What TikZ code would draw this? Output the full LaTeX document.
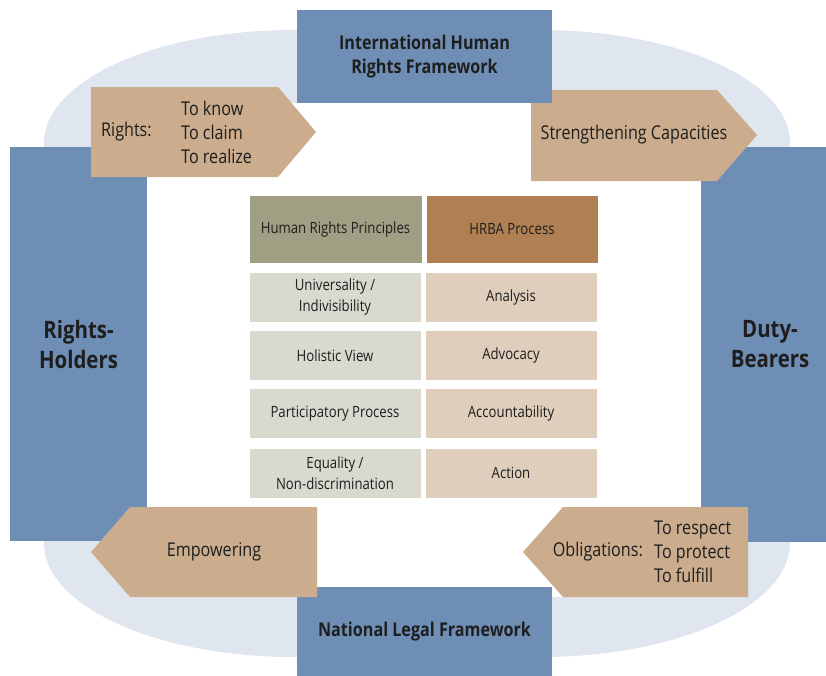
\documentclass[tikz,border=0pt]{standalone}
\usepackage{fontspec}
\setmainfont{Open Sans}[FakeStretch=0.85]

\definecolor{ovalfill}{RGB}{223,230,240}
\definecolor{frameblue}{RGB}{111,142,182}
\definecolor{armtan}{RGB}{203,172,141}
\definecolor{princhead}{RGB}{160,159,132}
\definecolor{prochead}{RGB}{176,128,82}
\definecolor{princrow}{RGB}{217,217,208}
\definecolor{procrow}{RGB}{223,206,187}
\definecolor{inktext}{RGB}{30,30,30}

\tikzset{
  framebox/.style={rectangle, fill=frameblue, inner sep=0pt, align=center,
    font=\bfseries\fontsize{19}{24}\selectfont, text=inktext},
  sidebox/.style={framebox, font=\bfseries\fontsize{24}{30}\selectfont},
  armtext/.style={inner sep=0pt, align=left, font=\fontsize{19}{24}\selectfont, text=inktext},
  cell/.style={rectangle, inner sep=0pt, minimum width=172, minimum height=50, align=center,
    font=\fontsize{15.5}{21}\selectfont, text=inktext, draw=white, line width=0.6pt},
}

\begin{document}
\begin{tikzpicture}[x=1pt, y=-1pt]
    \useasboundingbox (0,0) rectangle (826,675);
    \clip (0,0) rectangle (826,675);

    % Oval band behind everything
    \fill[ovalfill] (294,30) -- (540,30)
        arc[start angle=-90, end angle=0, x radius=250, y radius=113] -- (790,543)
        arc[start angle=0, end angle=90, x radius=250, y radius=114] -- (294,657)
        arc[start angle=90, end angle=180, x radius=250, y radius=114] -- (44,143)
        arc[start angle=180, end angle=270, x radius=250, y radius=113] -- cycle;
    \fill[white] (147,103) rectangle (701,597);

    % Side and bottom frames
    \node[sidebox, minimum width=137, minimum height=394] (holders) at (78.5,344) {Rights-\\Holders};
    \node[sidebox, minimum width=138, minimum height=395] (bearers) at (770,344.5) {Duty-\\Bearers};
    \node[framebox, minimum width=255, minimum height=90] (national) at (424.5,632) {National Legal Framework};

    % Rights arrow
    \fill[armtan] (91,87) -- (278,87) -- (316,132) -- (278,177) -- (91,177) -- cycle;
    \node[armtext, anchor=west] (rightslbl) at (101,132) {Rights:};
    \node[armtext, anchor=west] (rightslist) at (181,132) {To know\\To claim\\To realize};

    % Capacities arrow
    \fill[armtan] (531,90) -- (717,90) -- (757,135) -- (717,181) -- (531,181) -- cycle;
    \node[armtext] (capacitylbl) at (634,135) {Strengthening Capacities};

    % Empowering arrow
    \fill[armtan] (317,507) -- (130,507) -- (91,552) -- (130,597) -- (317,597) -- cycle;
    \node[armtext] (empowerlbl) at (214,552) {Empowering};

    % Obligations arrow
    \fill[armtan] (748,507) -- (563,507) -- (523,552) -- (563,597) -- (748,597) -- cycle;
    \node[armtext, anchor=east] (obliglbl) at (643,552) {Obligations:};
    \node[armtext, anchor=west] (obliglist) at (654,552) {To respect\\To protect\\To fulfill};

    % Top frame
    \node[framebox, minimum width=255, minimum height=93] (intl) at (424.5,56.5) {International Human\\Rights Framework};

    % Table
    \node[cell, fill=princhead, minimum width=173, minimum height=68] (princhd) at (335.5,229) {Human Rights Principles};
    \node[cell, fill=prochead, minimum height=68] (prochd) at (512,229) {HRBA Process};

    \node[cell, fill=princrow] (princa) at (335,297) {Universality /\\Indivisibility};
    \node[cell, fill=princrow] (princb) at (335,355.5) {Holistic View};
    \node[cell, fill=princrow] (princc) at (335,413.5) {Participatory Process};
    \node[cell, fill=princrow] (princd) at (335,473) {Equality /\\Non-discrimination};

    \node[cell, fill=procrow] (proca) at (511,297) {Analysis};
    \node[cell, fill=procrow] (procb) at (511,355.5) {Advocacy};
    \node[cell, fill=procrow] (procc) at (511,413.5) {Accountability};
    \node[cell, fill=procrow] (procd) at (511,473) {Action};
\end{tikzpicture}
\end{document}
